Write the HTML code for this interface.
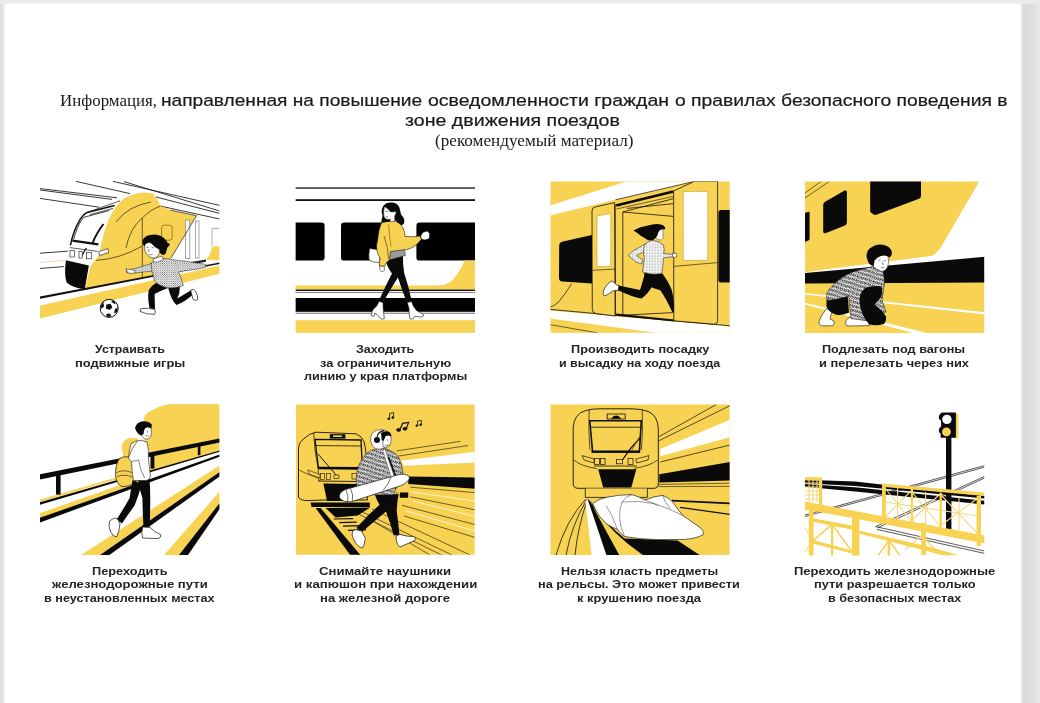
<!DOCTYPE html>
<html lang="ru">
<head>
<meta charset="utf-8">
<title>Информация</title>
<style>
html,body{margin:0;padding:0;}
body{width:1040px;height:703px;overflow:hidden;background:#e9eaeb;position:relative;font-family:"Liberation Sans",sans-serif;}
#shadow{position:absolute;left:1019.6px;top:4px;width:21px;height:699px;background:linear-gradient(to right,#fff 0,#f4f4f5 4%,#dcddde 14%,#d9dadb 20%,#dbdcde 40%,#dfe0e2 62%,#e5e6e7 85%,#e7e8e9 100%);z-index:2;}
#lshadow{position:absolute;left:0;top:4px;width:7px;height:699px;background:linear-gradient(to right,#dcddde 0,#e1e2e3 45%,#f3f3f4 62%,#fdfdfd 85%,#fff 100%);}
#page{position:absolute;left:4px;top:4px;width:1016px;height:699px;background:#fff;box-shadow:0 0 2px 1px #f4f4f5;}
.t{position:absolute;white-space:nowrap;color:#1a1a1a;will-change:transform;}
.t:not(.serif){-webkit-text-stroke:0.2px #1a1a1a;}
.serif{font-family:"Liberation Serif",serif;}
.cl{position:absolute;white-space:nowrap;font-family:"Liberation Sans",sans-serif;font-weight:bold;font-size:10.8px;line-height:14px;color:#242424;transform-origin:0 0;will-change:transform;}
svg.p{position:absolute;overflow:hidden;}
</style>
</head>
<body>
<div id="shadow"></div>
<div id="page"></div>
<div id="lshadow"></div>

<!-- TITLE -->
<div class="t serif" id="t1" style="left:59.5px;top:90.8px;font-size:16.9px;line-height:20px;">Информация,</div>
<div class="t" id="t2a" style="left:160.5px;top:90.7px;font-size:16.7px;line-height:20px;transform:scaleX(1.1462);transform-origin:0 0;">направленная на повышение</div>
<div class="t" id="t2b" style="left:428.0px;top:90.7px;font-size:16.7px;line-height:20px;transform:scaleX(1.1677);transform-origin:0 0;">осведомленности граждан</div>
<div class="t" id="t2c" style="left:674.7px;top:90.7px;font-size:16.7px;line-height:20px;transform:scaleX(1.1566);transform-origin:0 0;">о правилах безопасного поведения в</div>
<div class="t" id="t3" style="left:405.3px;top:110.9px;font-size:16.7px;line-height:20px;transform:scaleX(1.175);transform-origin:0 0;">зоне движения поездов</div>
<div class="t serif" id="t4" style="left:434.8px;top:131px;font-size:17.15px;line-height:20px;">(рекомендуемый материал)</div>

<!-- PANELS -->
<svg id="art" width="1040" height="703" viewBox="0 0 1040 703" style="position:absolute;left:0;top:0;">
<g id="p1">
<defs>
<pattern id="dots" width="2.2" height="2.2" patternUnits="userSpaceOnUse"><rect width="2.2" height="2.2" fill="#fff"/><circle cx="0.6" cy="0.6" r="0.48" fill="#222"/><circle cx="1.7" cy="1.7" r="0.48" fill="#222"/></pattern>
<pattern id="scrib" width="2.8" height="2.8" patternUnits="userSpaceOnUse"><rect width="2.8" height="2.8" fill="#fff"/><path d="M0.2 0.4 l1 0.2 l-0.5 0.9 z M1.6 1.7 l1 -0.3 l-0.3 1 z" fill="#111"/></pattern>
</defs>
<clipPath id="cp1"><rect x="40" y="180" width="179.6" height="143"/></clipPath>
<g clip-path="url(#cp1)">
  <!-- roof / wire lines -->
  <g stroke="#222" stroke-width="0.9" fill="none">
    <path d="M40 188.6 L117 197.8 M40 190 L112 199.4"/><path d="M40 198.4 L99 207.2"/>
    <path d="M76 181.4 L130 193.6"/><path d="M113 181.4 L219.6 205.4"/><path d="M124 181.6 L219.6 211"/>
    <path d="M156 197 L219.6 213.4"/><path d="M160 206 L219.6 219"/>
    <path d="M40 253.2 L70 251"/><path d="M40 268.4 L64 266.6"/>
  </g>
  <path d="M40 262.4 L65 260.2" stroke="#e8dca8" stroke-width="1" fill="none"/>
  <!-- platform band -->
  <path d="M40 305.4 L219.6 265.4 L219.6 273.8 L40 318.6 Z" fill="#f8d252"/>
  <!-- train yellow -->
  <path d="M84.7 289.2 L90.6 265.4 Q96 258 99.2 255 Q101 242 104.3 231.2 Q107 222 111.1 214.2 Q115.5 206 121.4 200.5 Q127 196 133.3 194.4 Q138 192.6 145 192.4 L152.3 193.2 Q157.6 198 160.4 206.1 L170.4 210.1 L196.5 215.7 L170.8 258.2 L170.5 272.6 Z" fill="#f8d252"/>
  <!-- right yellow piece under window -->
  <path d="M204.6 259.8 Q209 258 210.6 252 Q211.6 246.4 213.6 246.3 H219.6 V260 Z" fill="#f8d252"/>
  <!-- door poles -->
  <rect x="185.6" y="220" width="4.2" height="38.5" fill="#fff" stroke="#999" stroke-width="0.9"/>
  <rect x="195.6" y="221" width="3.4" height="37" fill="#fff" stroke="#999" stroke-width="0.9"/>
  <path d="M219.6 228.4 H212 V246.2" fill="none" stroke="#999" stroke-width="0.8"/>
  <!-- side window in yellow panel -->
  <rect x="161.6" y="225.2" width="10.6" height="15" rx="2.6" fill="none" stroke="#7a5c10" stroke-width="0.7"/>
  <!-- nose lines -->
  <g stroke="#222" stroke-width="0.7" fill="none">
    <path d="M142.3 218 V278"/>
    <path d="M116 222 Q128 206 151 202"/>
    <path d="M126 248 Q130 228 142.3 218"/>
    <path d="M96 260.4 Q120 259 142.3 246"/>
    <path d="M160.4 206.1 Q150 210 142.3 218"/>
    <path d="M170.4 210.1 L196.5 215.7 L171 258"/>
  </g>
  <!-- windshield -->
  <path d="M70.2 245 Q73 232 78.7 222.7 Q82 215.6 87.2 212.4 L114.6 205.6 L121.4 200.5 Q115.5 206 111.1 214.2 Q107 222 104.3 231.2 Q101 242 99.2 255 L90.6 265.4 L66 260.4 Q67 252 70.2 245 Z" fill="#fff"/>
  <g stroke="#111" fill="none">
    <path d="M70.4 245.4 Q73 232 79 221.4 Q82.4 215 87.2 212.4 L114.6 205.6" stroke-width="1.5"/>
    <path d="M73.6 239.4 Q77 226 83.4 217.4 L109.4 210.6" stroke-width="0.8"/>
    <path d="M72.4 240.6 L98.4 244.4" stroke-width="2.2"/>
    <path d="M87.2 212.4 L120 200.8 M90 214.6 L113 208.4" stroke-width="0.7"/>
    <path d="M103.4 224 Q96 234 92.6 243" stroke-width="2"/>
    <path d="M69.8 247.6 L97.6 251.4" stroke-width="0.7"/>
    <path d="M86.4 248 L81.6 256" stroke-width="1.2"/>
  </g>
  <!-- lights -->
  <g fill="#fff" stroke="#111" stroke-width="0.6">
    <rect x="70" y="250.4" width="4.4" height="6.6"/><rect x="79" y="251.6" width="3.2" height="6.4"/><rect x="86.4" y="252.4" width="5" height="6.4"/>
    <path d="M98.6 251.6 L108 248.6 L108.6 252.6 L99.6 255.6 Z"/>
  </g>
  <!-- black nose -->
  <path d="M65.9 260.3 L88.9 265.4 L84.7 289.3 Q72 287.6 66.6 282.6 Q64 274 65.9 260.3 Z" fill="#0a0a0a"/>
  <!-- platform edge black line -->
  <path d="M40 296.4 L219.6 262.6 L219.6 264 L40 298.8 Z" fill="#111"/>
  <path d="M188 262.6 L206 259.4 L206 261.8 L188 265.2 Z" fill="#222"/>
  <!-- ball -->
  <circle cx="109.2" cy="308.4" r="9" fill="#fff" stroke="#111" stroke-width="1"/>
  <g fill="#111"><path d="M106.4 304.6 L110.6 303.8 L112.4 307.4 L109.6 310 L105.8 308.4 Z"/><path d="M101 305 L103.4 302 L104 306.4 L101.2 309 Z"/><path d="M112 300.2 L116 302.4 L114.6 304 L111.6 302 Z"/><path d="M115 309 L117.8 307.6 L117 312 L114 313.6 Z"/><path d="M106 314 L110 313.4 L111.4 316.6 L107 317 Z"/></g>
  <!-- BOY -->
  <!-- back leg -->
  <path d="M168 287 L180 286 Q180 293 177.4 298.6 L190.6 290.6 L192.4 295 Q184 302.6 176.4 305 Q171 300 168 287 Z" fill="#0a0a0a"/>
  <!-- front leg -->
  <path d="M156 283 L168 288 Q160 291 154.6 294 L155 309 L149.6 308.4 Q147.4 298 148.6 291 Q150.6 286 156 283 Z" fill="#0a0a0a"/>
  <!-- shoes -->
  <path d="M140.6 308.8 Q147 307.4 154.8 309.4 Q156 312.6 154.6 314.4 Q146 314.6 140 311.4 Z" fill="#fff" stroke="#111" stroke-width="0.7"/>
  <path d="M190.6 290 Q193.6 288 195.4 291.2 Q198.4 296 197.6 299.6 Q195.4 301.4 193 299.4 Z" fill="#fff" stroke="#111" stroke-width="0.7"/>
  <!-- left arm -->
  <path d="M151 263.6 L135 268.6 L126 270 L126.6 272.6 L136 272.8 L153 271 Z" fill="url(#dots)" stroke="#222" stroke-width="0.5"/>
  <path d="M126 268.6 L135 270.4 L134.6 273.4 L128 273 Z" fill="#fff" stroke="#111" stroke-width="0.5"/>
  <!-- sweater -->
  <path d="M151 263 Q157 259.4 162.6 258.6 Q168 258 171 259.4 L194 262.4 Q203 263.6 206 264.6 L205.4 267.4 Q196 269.6 186 270.6 L178.6 272 Q181.6 279 183.4 285.6 Q176 288.6 168.6 287.8 Q160 286.6 154.6 281 Q151.4 272 151 263 Z" fill="url(#dots)" stroke="#222" stroke-width="0.5"/>
  <!-- neck -->
  <path d="M153 259 L162 256 L163.4 259.6 Q158 263 153.6 262 Z" fill="#fff" stroke="#111" stroke-width="0.5"/>
  <!-- hair -->
  <path d="M142.4 241 Q144 236 150 235 Q156 233.4 161 236 Q166 239 167.6 243 Q170.6 243.4 169.4 245.4 Q167 247 166.6 250 Q166 254.6 163.6 255 Q160 254 158.6 251 L150 244 Q146 243.6 144.6 246.4 Q142 244.4 142.4 241 Z" fill="#0a0a0a"/>
  <!-- face -->
  <path d="M145 244.4 Q148 241.6 151 243 Q155 247.6 159.4 249.4 Q160 254 157.4 256.6 Q153.6 259.4 149.6 257 Q145.6 254 144.4 249 Z" fill="#fff" stroke="#111" stroke-width="0.5"/>
  <path d="M146.4 247.6 L148.6 247.4 M151.6 247.6 L154 247.8 M149 249 L148.6 252 M148.6 254.4 Q150.6 255.4 152.6 254.4" stroke="#111" stroke-width="0.5" fill="none"/>
</g>
</g>

<g id="p2">
<clipPath id="cp2"><rect x="295.4" y="180" width="179.6" height="153"/></clipPath>
<g clip-path="url(#cp2)">
  <rect x="295.4" y="187.4" width="180" height="1.3" fill="#111"/>
  <rect x="295.4" y="199.2" width="180" height="1.8" fill="#111"/>
  <!-- windows -->
  <path d="M295.4 222.6 H321.5 Q324.6 222.6 324.6 225.7 V257.5 Q324.6 260.6 321.5 260.6 H295.4 Z" fill="#000"/>
  <rect x="341" y="222.6" width="60" height="38" rx="3.2" fill="#000"/>
  <path d="M475 222.6 H419.6 Q416.4 222.6 416.4 225.8 V257.4 Q416.4 260.6 419.6 260.6 H475 Z" fill="#000"/>
  <!-- yellow stripe with swoosh -->
  <path d="M295.4 285.5 H436 C450 285.5 455 280 463 264 L465 260.6 H475 V289.7 H295.4 Z" fill="#f8d252"/>
  <rect x="295.4" y="289.6" width="180" height="1.4" fill="#111"/>
  <rect x="295.4" y="292.2" width="180" height="0.6" fill="#333"/>
  <rect x="295.4" y="298" width="180" height="13.8" fill="#000"/>
  <rect x="295.4" y="312.8" width="180" height="0.7" fill="#333"/>
  <rect x="295.4" y="320.2" width="180" height="12.6" fill="#f8d252"/>
  <!-- WOMAN -->
  <!-- bag -->
  <path d="M369.5 248.5 Q368.3 256 369.2 260 Q373 262.8 379.5 262.5 L381 250 Z" fill="#fff" stroke="#111" stroke-width="0.6"/>
  <!-- legs -->
  <path d="M385.4 259 Q386.5 266 392 273.5 Q386 285 378.6 301.4 L383 302.6 Q390 290 397.9 277.6 Q402 290 406.9 302.8 L411.8 301.4 Q408.5 286 404.2 273 Q402.6 264 403 255 Z" fill="#0a0a0a"/>
  <!-- boots -->
  <path d="M379 301.4 L383 302.6 L383.2 308 Q383.5 313 384.4 318.6 L381.5 319.3 L377.2 314.6 L374.6 313.2 L374 316.4 L371.3 315.6 Q371.6 311 373.6 309 Q377.5 306 379 301.4 Z" fill="#fff" stroke="#111" stroke-width="0.6"/>
  <path d="M407.2 302.6 L411.6 301.6 Q413 307 416.5 310.5 L423.6 314.6 Q424 316.6 421.5 317 L414.5 316.4 L413 319 L410 319 Q408.6 312 409 308.6 Z" fill="#fff" stroke="#111" stroke-width="0.6"/>
  <!-- gray shirt hem -->
  <path d="M390 247 L403.5 243 L405.5 255.5 L389 260 Z" fill="#9a9a9a" stroke="#222" stroke-width="0.5"/>
  <!-- sweater body -->
  <path d="M381.5 222.8 Q388 220 396 221.2 Q402.5 224 404.6 232.5 L405 236.4 Q412 237.4 420 236 L421.4 239.2 Q415 248 406.5 249.6 L398 250.5 L390.5 251.5 L389.6 259.5 Q386 262.5 384.4 266.3 L379.6 266 Q378.6 262 380.2 258.5 Q374.6 250 377.6 240 Q378.4 230 381.5 222.8 Z" fill="#f8d252" stroke="#111" stroke-width="0.6"/>
  <path d="M388.6 224.5 Q389.4 236 391 247" fill="none" stroke="#8a6a10" stroke-width="0.7"/>
  <path d="M384 236 Q388.4 248 388.6 259" fill="none" stroke="#111" stroke-width="0.5"/>
  <!-- hand + cup -->
  <path d="M420.6 236 L423 232.2 L427.6 231 L429.6 233.6 L429.4 238.6 L425 240 L421.6 239.2 Z" fill="#fff" stroke="#111" stroke-width="0.6"/>
  <!-- left hand -->
  <path d="M379.8 266 L384.2 266.4 L384.4 270.4 L381.6 272 L379.8 270 Z" fill="#fff" stroke="#111" stroke-width="0.5"/>
  <!-- hair -->
  <path d="M390.6 202.6 Q396.5 202.2 399.2 207 Q400.4 211 401 214.5 Q405.6 219 404 223.5 Q402.4 226 400 224 Q397 222.5 396 220.5 L389 221.8 L381.2 222.4 Q381.6 218.8 382.6 216 Q380.6 210 383.2 206 Q386 202.6 390.6 202.6 Z" fill="#0a0a0a"/>
  <!-- face -->
  <path d="M384.6 206.6 Q387.6 208.4 390.4 211.8 Q393.4 212.4 395.8 211.2 Q396.6 214 394.6 216 L394.8 221 L390 222 L390.4 219.2 Q386.4 220.4 384.4 217.6 Q382.6 213 384.6 206.6 Z" fill="#fff" stroke="#111" stroke-width="0.4"/>
  <path d="M385.6 211.3 L387.6 211.6 M386 216.6 L388 217" stroke="#111" stroke-width="0.6" fill="none"/>
</g>
</g>

<g id="p3">
<clipPath id="cp3"><rect x="550.5" y="181.6" width="179.2" height="151.2"/></clipPath>
<g clip-path="url(#cp3)">
  <rect x="550" y="181" width="181" height="153" fill="#f8d252"/>
  <!-- white diagonal band top -->
  <path d="M550 205.6 L626.4 181.4 L694.4 181.4 L615.4 199.8 L550 215.6 Z" fill="#fff"/>
  <path d="M615.4 199.8 L694.4 181.4" stroke="#111" stroke-width="0.7" fill="none"/>
  <!-- white band bottom -->
  <path d="M550 310.4 L730 326.6 L730 334 L664.7 334 L550 318.4 Z" fill="#fff"/>
  <path d="M550 324.6 L598 333" stroke="#111" stroke-width="0.6" fill="none"/>
  <!-- train bottom line -->
  <path d="M550 309.4 L730 325.8" stroke="#111" stroke-width="0.8" fill="none"/>
  <path d="M616 314.6 L674 320.4" stroke="#111" stroke-width="2" fill="none"/>
  <!-- left curve -->
  <path d="M571.6 283.6 Q566 293 559 301.6 Q555 305.6 550 307.4" stroke="#111" stroke-width="0.7" fill="none"/>
  <!-- left black window -->
  <path d="M563 241.6 L592 235 L592 283.4 L562.4 281.6 Q559 281.2 559 278 L559.2 245.4 Q559.4 242.4 563 241.6 Z" fill="#0a0a0a"/>
  <!-- right black window -->
  <path d="M730 210 H721 Q718.4 210 718.4 213 V279.4 Q718.4 282.4 721 282.4 H730 Z" fill="#0a0a0a"/>
  <!-- left leaf -->
  <path d="M592 211 Q592 207.4 595.6 206.8 L614.6 202.6 L615.4 316 L596 313.6 Q592.4 313 592.3 309.6 Z" fill="#f8d252" stroke="#111" stroke-width="0.8"/>
  <path d="M597 216 L610.8 213.6 L610.8 266.2 L597 266.6 Z" fill="#fff" stroke="#caa030" stroke-width="0.6"/>
  <path d="M592.3 270.4 L615.2 269" stroke="#111" stroke-width="0.6" fill="none"/>
  <!-- door opening -->
  <path d="M616.2 205.4 L673.4 191.6" stroke="#0a0a0a" stroke-width="2.6" fill="none"/>
  <path d="M616.4 209 L673.4 196.4" stroke="#111" stroke-width="0.6" fill="none"/>
  <g stroke="#111" stroke-width="0.8" fill="none">
    <path d="M615.2 204 V316"/>
    <path d="M622.8 212 V315.6"/>
    <path d="M622.8 212 L673.6 198.6"/>
    <path d="M622.8 212 L673.6 216.4"/>
    <path d="M627 208.4 L673.6 203.6"/>
    <path d="M622.8 315.2 L673.6 312.6"/>
  </g>
  <!-- right leaf -->
  <path d="M673.6 191 L694.4 181.4 L717.6 181.4 L717.6 320 Q717.6 324.4 713.6 324.2 L673.8 320.8 Z" fill="#f8d252" stroke="#111" stroke-width="0.8"/>
  <rect x="683.2" y="191.4" width="24.6" height="68.8" fill="#fff" stroke="#caa030" stroke-width="0.6"/>
  <path d="M673.8 266.4 L717.6 262.6" stroke="#111" stroke-width="0.6" fill="none"/>
  <!-- GIRL -->
  <!-- back leg -->
  <path d="M645 273 Q642 284 640 290 L618.4 285.4 L617.6 290 Q632 297 641.6 298.6 Q648 294 652 286.6 Z" fill="#0a0a0a"/>
  <!-- front leg -->
  <path d="M644 273 L662.4 273.6 Q668 281 671.4 289 Q674.6 300 674 311.6 L672.4 312.6 Q666 298 660 290 Q653 288 649.6 286.4 Z" fill="#0a0a0a"/>
  <!-- shoe -->
  <path d="M603 293.6 Q604 286 611.4 281 Q614 281.6 616.6 285 L619 285.6 L618 290.6 L613 290.8 Q608 295 604.4 296 Z" fill="#fff" stroke="#111" stroke-width="0.7"/>
  <!-- back arm -->
  <path d="M645.6 243.6 L631.6 252 L628.4 255.4 L636 262 L641.4 264 L643 260 L636.4 255.6 L646 250.6 Z" fill="url(#scrib)" stroke="#111" stroke-width="0.5"/>
  <!-- sweater -->
  <path d="M652 240 Q659 241 663.4 245 Q665 250 663.6 253.6 L673 254.4 L673.4 256.6 L663.4 258 Q663 267 661.8 273.6 Q652 275.6 642.4 272 Q643.6 263 644.4 258 Q642 248 646 243 Z" fill="url(#scrib)" stroke="#111" stroke-width="0.5"/>
  <path d="M672.4 253.2 L676.6 253.4 L676.8 257 L672.8 257.4 Z" fill="#fff" stroke="#111" stroke-width="0.5"/>
  <!-- face -->
  <path d="M656 229.6 L662.6 229 Q663.6 233 662.8 236.4 L663.4 238 L661.4 240 L657.6 239.6 L655 236 Z" fill="#fff" stroke="#111" stroke-width="0.4"/>
  <!-- hair -->
  <path d="M633.4 230.6 Q640 226.6 648 225.6 Q655 223.2 661 224.6 Q665.4 226 665.4 229 L661 229.4 Q658 231 657.6 235 Q656 239 652.6 240.4 Q648 241 644.6 238 Q641 236.6 638 233.6 Q636 232 633.4 230.6 Z" fill="#0a0a0a"/>
</g>
</g>

<g id="p4">
<defs>
<pattern id="scrib2" width="4.2" height="4.2" patternUnits="userSpaceOnUse" patternTransform="rotate(18)"><rect width="4.2" height="4.2" fill="#fff"/><path d="M0.2 1.2 Q1 -0.2 2 1 T4 1.2 M0.4 3.4 Q1.4 2 2.4 3.2 T4.2 3.2 M2.1 1.2 V2.6 M0 2.2 H0.8 M3.4 2 L4.2 2.4" stroke="#0a0a0a" stroke-width="0.72" fill="none"/></pattern>
</defs>
<clipPath id="cp4"><rect x="805" y="181.6" width="179.2" height="151.3"/></clipPath>
<g clip-path="url(#cp4)">
  <!-- lower yellow ground -->
  <rect x="805" y="270" width="180" height="64" fill="#f8d252"/>
  <!-- yellow train body -->
  <path d="M805 181 H979.6 L944 242 Q939 252 931.5 256.2 L805 272 Z" fill="#f8d252"/>
  <!-- white wedge right -->
  <path d="M980 181 H985 V258 L932 256.2 Q939.6 252.4 944.6 242.6 Z" fill="#fff"/>
  <path d="M805 272.2 L932 256 L985 256.4 V258 L805 273.6 Z" fill="#fff"/>
  <!-- black band -->
  <path d="M805 273 L985 256.8 V282.4 L805 283.4 Z" fill="#0a0a0a"/>
  <!-- white ground lines -->
  <path d="M805 293 L985 312.2 V314.6 L805 294.4 Z" fill="#fff"/>
  <path d="M805 302.8 L931 334 L917 334 L805 304.6 Z" fill="#fff"/>
  <!-- windows -->
  <path d="M805 213 L808.4 211.8 Q809.6 211.6 809.6 213 V238.4 Q809.6 239.8 808.4 240.4 L805 242 Z" fill="#0a0a0a"/>
  <path d="M825.2 201.8 L844.6 190.6 Q846.9 189.8 846.9 192.2 V222.6 Q846.9 224.8 845 225.6 L825.4 233.2 Q823.2 233.8 823.2 231.6 V205 Q823.2 202.8 825.2 201.8 Z" fill="#0a0a0a"/>
  <path d="M870.2 181 H921 V196 Q921 198 919 198.8 L877 214.6 Q875 215.2 873.6 214.4 L871.2 212.8 Q870.2 212 870.2 210.4 Z" fill="#0a0a0a"/>
  <path d="M805 193 L821 181.6 M805 198 L829 181.6" stroke="#111" stroke-width="0.6" fill="none"/>
  <!-- BOY -->
  <!-- shoes -->
  <path d="M826.4 308.6 Q822 314 819 321.4 Q818.6 325 821 325.8 L833 325.8 Q835 324 834 321 L830 319 L832 311 Z" fill="#fff" stroke="#111" stroke-width="0.6"/>
  <path d="M846 320.6 Q848 317.6 851 317 L868 321 L869.6 325.6 L847 326 Q844.6 324 846 320.6 Z" fill="#fff" stroke="#111" stroke-width="0.6"/>
  <!-- back thigh -->
  <path d="M826.6 299 L847.6 294.6 L849 312.6 Q842 316 835.6 314.4 Q828 312 826.4 306 Z" fill="#0a0a0a"/>
  <!-- torso patterned -->
  <path d="M867.4 268 L874 266 L883 271.6 Q884.6 277 884.4 284.6 L882 300 L886 312 L881 314 L866 320.6 L851 318.6 L848.6 296 Q838 299.6 828 300.6 L826.4 297.6 Q826.6 292 829 289.4 Q838 279 849 273.6 Q858 269.6 867.4 268 Z" fill="url(#scrib2)" stroke="#111" stroke-width="0.5"/>
  <!-- knee black -->
  <path d="M865 288 Q872 285.4 881.4 286.2 Q883 292 881 297 Q877 302 874.4 304.6 Q882 310 886 316.6 Q886.6 321.6 884 324 Q876 326.4 869.4 324.6 Q863.6 318 861.6 311.6 Q858.6 302 860 296 Q861.6 291 865 288 Z" fill="#0a0a0a"/>
  <!-- face -->
  <path d="M873 256 Q880 252.6 888 255.6 Q889.6 262 887.6 267 Q885 271.6 881.6 271.6 Q877 270 873.6 266.6 L872.6 262 Z" fill="#fff" stroke="#111" stroke-width="0.5"/>
  <path d="M878.4 260.4 L880.6 260 M883.8 260.6 L885.8 260.6 M882.6 261.6 L883 265 M881 267.4 Q882.6 268.2 884.2 267.4" stroke="#111" stroke-width="0.5" fill="none"/>
  <!-- hair -->
  <path d="M866.6 257 Q866 250 872 247 Q877 243.6 884 245 Q890 246.4 891.6 251 Q892.6 255 889.6 257.6 Q886 254.6 881 256 Q877 257.4 874.6 260.6 L873.6 266 Q869.6 265 868 261.4 Z" fill="#0a0a0a"/>
</g>
</g>

<g id="p5">
<clipPath id="cp5"><rect x="40" y="400" width="179.6" height="155"/></clipPath>
<g clip-path="url(#cp5)">
  <!-- yellow blob -->
  <path d="M144 417.4 Q146 412.6 152.6 410 Q160 406 168.4 404.2 L219.6 404.2 V451.4 L150 471.4 L150 452 Q146 446 144.6 440 Q143 428 144 417.4 Z" fill="#f8d252"/>
  <path d="M121.4 447.6 Q122 441.6 127 439 Q132 436.6 138 438.4 L140 458 L124 458 Z" fill="#f8d252"/>
  <!-- yellow above line1/line2 (left) -->
  <path d="M40 499.4 L130 473.4 L130 475.6 L40 502 Z" fill="#f8d252"/>
  <path d="M40 513.2 L150 474.6 L150 478.6 L40 518.6 Z" fill="#f8d252"/>
  <!-- rails lines -->
  <path d="M40 502.2 L219.6 450.4 V451.8 L40 504.8 Z" fill="#0a0a0a"/>
  <path d="M40 517.8 L219.6 454.6 V456.8 L40 522.4 Z" fill="#0a0a0a"/>
  <!-- top rail -->
  <path d="M40 474.2 L219.6 438.4 V442.4 L40 479.4 Z" fill="#0a0a0a"/>
  <rect x="56" y="474" width="4.6" height="20.6" fill="#0a0a0a"/>
  <rect x="150.6" y="455" width="3.8" height="13.6" fill="#0a0a0a"/>
  <rect x="197.8" y="444.6" width="2.6" height="10.6" fill="#0a0a0a"/>
  <!-- band A -->
  <path d="M81 555 L219.6 465.4 V472 L100 555 Z" fill="#f8d252"/>
  <path d="M100 555 L219.6 472 V476.4 L109.4 555 Z" fill="#0a0a0a"/>
  <!-- band B -->
  <path d="M164 555 L219.6 491.6 V503 L179 555 Z" fill="#f8d252"/>
  <path d="M179 555 L219.6 503 V509 L188 555 Z" fill="#0a0a0a"/>
  <!-- BOY -->
  <!-- backpack -->
  <path d="M119 459 Q123 455.6 128.6 457 Q133.6 461 135.6 470 L135.8 482 Q130 486.6 122 486.6 Q116.4 484 115.6 476 Q115 466 119 459 Z" fill="#f8d252" stroke="#111" stroke-width="0.7"/>
  <path d="M116.4 472.6 Q124 469 131.6 472.6 M117 476.6 Q124 473.6 132.4 477" stroke="#111" stroke-width="0.6" fill="none"/>
  <!-- back leg -->
  <path d="M132.6 480 L141.6 484 Q138.6 496 134.6 505.6 Q128 514.6 122 523.4 L116.6 519.4 Q124 508 129.6 498 Q131 489 132.6 480 Z" fill="#0a0a0a"/>
  <!-- front leg -->
  <path d="M138 480 L149.6 479.6 Q150.4 492 150.2 506 L149.8 526.6 L143.4 526 Q142.6 510 142.4 498 Q139.6 490 138 480 Z" fill="#0a0a0a"/>
  <!-- shoes -->
  <path d="M112.6 519 Q115.6 517 118 519.6 L120 524 Q119 532 116.6 537 Q113 536.6 110.6 532 Q108 526 109.6 521 Z" fill="#fff" stroke="#111" stroke-width="0.7"/>
  <path d="M142.6 527 L150 527.4 Q154 532 160.6 534.6 Q161.6 537.6 158 538.6 L142.6 538 Q141 533 142.6 527 Z" fill="#fff" stroke="#111" stroke-width="0.7"/>
  <!-- shirt -->
  <path d="M131 443.6 Q136 440 141.6 440.4 L147 442 Q149 450 148.6 460 L150.4 476 Q150 480 146 480.6 L133.4 480.6 Q131.6 470 131.6 462 L128.6 458.6 Q129 450 131 443.6 Z" fill="#fff" stroke="#111" stroke-width="0.6"/>
  <path d="M131.6 461.6 L138.6 460 Q140 470 144.6 478" stroke="#111" stroke-width="0.5" fill="none"/>
  <path d="M137.4 441 Q131 449 128.4 458" stroke="#8a6a10" stroke-width="0.9" fill="none"/>
  <!-- face -->
  <path d="M141 427 Q147 425 151 428 Q152 433 150.6 437 Q148 440 144.6 439 L141.6 436 Z" fill="#fff" stroke="#111" stroke-width="0.5"/>
  <path d="M147.4 430.6 V432.6 M145.6 435.6 Q147 436.6 148.6 435.6" stroke="#111" stroke-width="0.5" fill="none"/>
  <!-- hair -->
  <path d="M135 428 Q136 422.6 142 421.4 Q148 420.6 151.8 424.6 L151.4 428.4 Q148 426 145 428.4 Q143.4 431 143.6 434 L141 435.4 Q137 434 135 428 Z" fill="#0a0a0a"/>
</g>
</g>

<g id="p6">
<clipPath id="cp6"><rect x="296" y="404.4" width="178.6" height="150.4"/></clipPath>
<g clip-path="url(#cp6)">
  <rect x="295" y="404" width="181" height="152" fill="#f8d252"/>
  <!-- white band & black band right -->
  <path d="M400.8 460.8 L475 451.8 V462.6 L404 465.8 Z" fill="#fff"/>
  <path d="M408.3 476.4 L475 477.6 V488.8 L408.3 484 Z" fill="#0a0a0a"/>
  <g stroke="#111" stroke-width="0.6" fill="none">
    <path d="M396.6 450.9 L460.6 441.3"/><path d="M397.6 456.2 L468 445.5"/>
    <path d="M410.4 487.2 L475 492.6"/><path d="M410.4 496.8 L475 509.8"/><path d="M402 505.3 L475 524.6"/><path d="M404 516 L475 537.4"/>
    <path d="M350.3 510 L441.6 555"/><path d="M357 509.4 L452 555"/><path d="M366 517 L430 555"/><path d="M372 509 L470 555"/>
  </g>
  <g stroke="#fdf3cf" stroke-width="1" fill="none">
    <path d="M412.6 501 L475 516.4"/><path d="M405 510.6 L475 531"/><path d="M412 492 L475 501"/>
  </g>
  <!-- track to lower-left -->
  <path d="M315.6 508 L320.6 508 L360.4 555 L350.2 555 Z" fill="#0a0a0a"/>
  <path d="M325.6 508 L370.4 507.4 L357.6 515.6 L335.7 517.4 Z" fill="#0a0a0a"/>
  <path d="M333.8 519 L353 518.6 M339.3 522.6 L356.7 522.2 M343 526.2 L363 525.6 M348 530.4 L366 529.6" stroke="#111" stroke-width="1.2" fill="none"/>
  <!-- TRAIN -->
  <path d="M298.5 497 V448.4 Q299 442 304.2 438.4 Q309 433.6 316 432.2 L356 433.8 Q362 436 364.2 442 Q366.6 452 367 470 L367.4 500 H325 L306 500.6 Q299.6 500 298.5 497 Z" fill="#f8d252" stroke="#111" stroke-width="0.9"/>
  <path d="M313.6 432.6 Q314.6 452 318 468 L319 481" stroke="#111" stroke-width="0.7" fill="none"/>
  <path d="M299 470 Q306 474 318 478" stroke="#111" stroke-width="0.6" fill="none"/>
  <!-- windshield -->
  <path d="M315 439.4 L361 440 L362.4 468 L318.4 467.6 Z" fill="none" stroke="#111" stroke-width="1.3"/>
  <path d="M315.6 445.6 L361.4 446" stroke="#111" stroke-width="0.8" fill="none"/>
  <path d="M318.2 468 L362.6 468.4" stroke="#0a0a0a" stroke-width="2.6" fill="none"/>
  <path d="M318 454 L337 476" stroke="#111" stroke-width="1" fill="none"/>
  <rect x="329.8" y="434.2" width="15.6" height="4.4" fill="#0a0a0a"/>
  <rect x="333" y="435.4" width="9" height="1.6" fill="#f8d252"/>
  <g fill="#f8d252" stroke="#111" stroke-width="0.6">
    <path d="M308 470 L320 474.6 L320 478 L309 474 Z"/>
    <rect x="320.6" y="473.6" width="4" height="6"/><rect x="326.6" y="473.6" width="4" height="6"/><rect x="334" y="475" width="5" height="3.6"/><rect x="352" y="473.6" width="5" height="5.4"/>
  </g>
  <path d="M318 481 L366 481.6" stroke="#111" stroke-width="0.9" fill="none"/>
  <path d="M323.4 483.6 L357.4 484 L356.6 501 L327 501 Z" fill="#0a0a0a"/>
  <path d="M310.6 502.4 L369.8 502.4 L369.8 507 L311.6 507 Z" fill="#0a0a0a"/>
  <!-- notes -->
  <g fill="#111" stroke="#111" stroke-width="0.8">
    <path d="M389.6 418.6 V413.4 L393.6 412.6 V417.4" fill="none"/><ellipse cx="388.8" cy="418.8" rx="1.1" ry="0.9"/><ellipse cx="392.8" cy="417.6" rx="1.1" ry="0.9"/>
    <path d="M400 429.6 L402.6 423.4 L408.6 422.4 L406.4 428.4" fill="none" stroke-width="1.2"/><ellipse cx="398.6" cy="430" rx="2" ry="1.4"/><ellipse cx="405" cy="428.8" rx="2" ry="1.4"/>
    <path d="M417.6 425.4 V421 L421.4 420.4 V424.6" fill="none"/><ellipse cx="416.8" cy="425.6" rx="1" ry="0.8"/><ellipse cx="420.6" cy="424.8" rx="1" ry="0.8"/>
  </g>
  <!-- GIRL -->
  <!-- legs -->
  <path d="M375 495 L398.6 494 Q396.6 506 396.8 512 Q398.6 524 399.4 534.4 L393.8 535.6 Q390 522 386 511.6 Q376 520 362.6 531.6 L356.2 528 Q366 518 368 515.6 Q377 507 379.6 505 Q376.6 500 375 495 Z" fill="#0a0a0a"/>
  <!-- shoes -->
  <path d="M355.6 529.6 L361.4 531 L365.4 538 Q364.6 545 362.4 548 Q357 546.6 354 540 Q351 535 352.6 531 Z" fill="#fff" stroke="#111" stroke-width="0.7"/>
  <path d="M396 536 L400 534.4 Q406 536.6 414 536.6 Q416.6 538.6 414.6 540.6 L400 547 Q397 545 396.4 541 Z" fill="#fff" stroke="#111" stroke-width="0.7"/>
  <!-- jacket -->
  <path d="M376.3 448.7 L369.3 451.3 Q361 458 357.4 469.5 Q355.4 478 356.3 484.3 Q357.6 491 361.4 494.6 L393.4 494.8 L397 486 Q402.6 480 402.9 474 Q402.6 468 401.2 463.8 Q399.6 457.6 395.5 453.6 Q391 450.6 385.9 448.7 Z" fill="url(#scrib2)" stroke="#111" stroke-width="0.5"/>
  <path d="M385 449 L395.6 481 L392.6 482 L382.6 450 Z" fill="#fff" stroke="#111" stroke-width="0.4"/>
  <path d="M388.4 457 L396.4 478" stroke="#0a0a0a" stroke-width="1.6" fill="none"/>
  <!-- camera -->
  <path d="M399.8 492.6 H408.2 V497.8 H399.8 Z" fill="#0a0a0a"/>
  <path d="M397 492 Q394 500 397 506" stroke="#111" stroke-width="0.5" fill="none"/>
  <!-- skateboard -->
  <path d="M339.4 497.6 Q338.6 492.6 345 489.6 L398 474.8 Q406 472.8 409.6 477.2 Q409 482 401 485.6 L352 501.6 Q343 503 339.4 497.6 Z" fill="#fff" stroke="#111" stroke-width="0.7"/>
  <path d="M346 490 Q349 496 347.6 502 M350.6 488.6 Q353.6 494.6 352.4 501 M391 477 Q389 484 383 490.4" stroke="#111" stroke-width="0.6" fill="none"/>
  <!-- hood -->
  <path d="M370.6 441 Q370 432.6 376.6 430.2 Q382.6 428.4 387 431.2 L384.6 447.6 Q380 450.4 375.6 448.6 Q371.4 446 370.6 441 Z" fill="#fff" stroke="#111" stroke-width="0.5"/>
  <!-- face -->
  <path d="M382.6 434.6 Q388 433 391 436.6 Q391.6 442 389.6 446 Q386 448.6 383 446.6 Z" fill="#fff" stroke="#111" stroke-width="0.5"/>
  <path d="M385 445 Q387 446.4 389.4 444.6 M387.6 439.4 V441" stroke="#111" stroke-width="0.5" fill="none"/>
  <!-- hair -->
  <path d="M381 433 Q384 430.6 388.4 431.6 Q391.4 433 391.4 436.6 Q388 434.6 385.4 436.6 L383.6 441 L381.6 440 Z" fill="#0a0a0a"/>
  <!-- headphone -->
  <circle cx="377" cy="440" r="3" fill="#0a0a0a"/>
  <path d="M377 437 Q378 431.6 384 430.6" stroke="#0a0a0a" stroke-width="1.1" fill="none"/>
</g>
</g>

<g id="p7">
<clipPath id="cp7"><rect x="550.5" y="404.4" width="179.1" height="150.6"/></clipPath>
<g clip-path="url(#cp7)">
  <rect x="550" y="404" width="181" height="152" fill="#f8d252"/>
  <!-- right perspective bands -->
  <path d="M660.3 449 L730 419.8 V437.2 L660.3 456.2 Z" fill="#fff"/>
  <path d="M659.3 474.2 L730 462 V480.4 L659.3 482.4 Z" fill="#0a0a0a"/>
  <g stroke="#111" fill="none">
    <path d="M658.3 437 L716.5 404.4" stroke-width="0.7"/><path d="M658.3 441 L730 405.6" stroke-width="0.7"/>
    <path d="M660.3 462 L730 445" stroke-width="0.7"/>
    <path d="M658.3 484.4 L730 483.2" stroke-width="0.6"/><path d="M658.3 486.6 L730 486.4" stroke-width="0.6"/>
    <path d="M672 500.6 L730 503.4" stroke-width="1.6"/><path d="M680 507.4 L730 514.4" stroke-width="1.3"/>
  </g>
  <!-- left curved track lines -->
  <g stroke="#111" stroke-width="0.8" fill="none">
    <path d="M586 499 Q566 520 556 555"/><path d="M586.6 500 Q572 524 566 555"/><path d="M587 501 Q578 526 575 555"/>
  </g>
  <!-- rails bands -->
  <path d="M585.4 502 L591.6 555 L606.4 555 L587.6 499 Z" fill="#fff"/>
  <path d="M587.4 498.4 L606.4 555 L619.2 555 Q600 520 590 501 Z" fill="#0a0a0a"/>
  <path d="M590.6 501 Q604 522 624.6 538.4 L677.6 540.4 L699.6 555 L642.8 555 Q612 534 592.6 506 Z" fill="#0a0a0a"/>
  <!-- TRAIN -->
  <path d="M573.2 484 V428 Q573.6 414 586 410.4 Q592 408.8 600 408.8 H632 Q642 409 648 411.4 Q658 415.6 658.3 429 V484 Q658 488.2 654 488.3 H578 Q573.4 488.2 573.2 484 Z" fill="#f8d252" stroke="#111" stroke-width="0.9"/>
  <path d="M589.2 409.6 Q588 430 590 450 M642.2 409.6 Q643.2 430 641.4 450" stroke="#111" stroke-width="0.7" fill="none"/>
  <path d="M589.8 420.8 H641.3 L639.4 452 H592.6 Z" fill="none" stroke="#111" stroke-width="1.6"/>
  <path d="M591.6 451.6 H640" stroke="#0a0a0a" stroke-width="2.4" fill="none"/>
  <path d="M590 427.2 H641" stroke="#111" stroke-width="0.8" fill="none"/>
  <path d="M574 460 Q580 466 597 468.6 M634 468.4 Q650 466 657.6 460" stroke="#111" stroke-width="0.7" fill="none"/>
  <rect x="607.2" y="414" width="18" height="5" fill="#f8d252" stroke="#111" stroke-width="0.8"/>
  <path d="M611 418.8 Q616 412.4 621.4 418.8 Z" fill="#0a0a0a"/>
  <path d="M640 438 Q630 448 622.4 460" stroke="#111" stroke-width="1.3" fill="none"/>
  <path d="M640 436 L632 450" stroke="#7a5c10" stroke-width="0.8" fill="none"/>
  <g fill="#f8d252" stroke="#111" stroke-width="0.7">
    <path d="M582 455.6 L594 459 L594 463 L584 460 Z"/><rect x="594.6" y="458.6" width="5" height="6"/><rect x="600.6" y="458.6" width="4.4" height="6"/>
    <rect x="616.4" y="459.4" width="6" height="4.4"/><rect x="628" y="458.6" width="5" height="6"/><path d="M636 459 L649 455.6 L648 460 L636.6 463 Z"/>
  </g>
  <path d="M594 466 H637" stroke="#111" stroke-width="0.8" fill="none"/>
  <path d="M598.2 469.2 H636.3 L631.3 487.6 H603.2 Z" fill="#0a0a0a"/>
  <path d="M585.3 488.4 V497.4 H647.4 V488.4" fill="#f8d252" stroke="#111" stroke-width="0.8"/>
  <!-- BAG -->
  <path d="M592.6 503.6 Q598 499 606.3 497.4 Q618 494.6 631.9 494.6 Q640 497 645 500 Q654 496 662.9 495.4 Q670 498 673.9 503.6 Q678 510 683 515.6 Q692 522 701.3 528.4 Q704.6 531.6 703.1 534.8 Q696 538.6 684.8 539.4 L655.6 539.6 Q638 539 624.6 536.6 Q620 533 617.2 529.2 Q611 527 606.3 523.8 Q599 517 595.3 509.2 Z" fill="#fff" stroke="#222" stroke-width="0.7"/>
  <g stroke="#333" stroke-width="0.5" fill="none">
    <path d="M624.6 536.6 Q616 518 622 502 Q626 496 631.9 494.6"/>
    <path d="M622 502 Q640 500 656 504 Q668 508 683 515.6"/>
    <path d="M617.2 529.2 Q612 514 606 506"/>
    <path d="M645 500 Q652 502 658 506"/>
    <path d="M662.9 495.4 Q664 502 670 508"/>
  </g>
</g>
</g>

<g id="p8">
<clipPath id="cp8"><rect x="804.7" y="400" width="179.8" height="155.4"/></clipPath>
<g clip-path="url(#cp8)">
  <!-- thin dark track lines (double) -->
  <g stroke="#222" stroke-width="0.75" fill="none">
    <path d="M984.5 465.6 L804.7 515"/><path d="M984.5 467.2 L804.7 516.6"/>
    <path d="M984.5 476.4 L875.6 526.6"/><path d="M984.5 478 L878 527.6"/>
    <path d="M875.6 526.6 L984.5 551"/><path d="M877 529.4 L984.5 553.4"/>
  </g>
  <!-- pole -->
  <rect x="946" y="437" width="5.4" height="92.4" fill="#0a0a0a"/>
  <!-- black rails -->
  <path d="M804.7 479.8 L855 481.6 L984.5 496 V498.6 L855 486 L804.7 483.2 Z" fill="#0a0a0a"/>
  <path d="M804.7 484 L855 487.2 L984.5 500.8 V504.4 L855 491.4 L804.7 486.8 Z" fill="#0a0a0a"/>
  <!-- pale lattice -->
  <g stroke="#f7d97f" stroke-width="1.1" fill="none">
    <path d="M885 488 L911 521 M885 517 L911 491 M911 491 L940 526 M911 521 L940 494 M940 494 L978 534 M940 526 L978 498"/>
    <path d="M885 502 L978 516"/>
    <path d="M897.6 488 V519 M925.6 492 V524 M959 496 V530"/>
    <path d="M805 483 H820 M805 487 H820 M805 491 H820 M805 495 H820 M805 499 H820 M809 480 V502 M813 480 V502 M817 480 V502"/>
    <path d="M813 540 L805 528 M813 540 L805 552 M921 536 L905 550 M926 540 L940 555"/>
    <path d="M984 518 L990 510 M984 535 L990 528"/>
  </g>
  <!-- yellow fence -->
  <g fill="#f8d252">
    <!-- left section top bar & post -->
    <path d="M804.7 477 L822 477.6 V480.8 L804.7 480.4 Z"/>
    <rect x="819" y="477.4" width="3.2" height="28.4"/>
    <!-- main thick beam left -->
    <path d="M804.7 501.6 L855 511 L984.5 535.4 V543.4 L855 518.4 L804.7 509.6 Z"/>
    <!-- left post -->
    <rect x="808.8" y="504" width="4.8" height="52"/>
    <!-- mid post -->
    <rect x="852" y="513" width="7.4" height="43"/>
    <!-- second beam -->
    <path d="M813 518.2 L852 525.6 V529.8 L813 521.8 Z"/>
    <path d="M859 530.4 L930 547 L960 555.4 L944 555.4 L859 533.6 Z"/>
    <!-- lower-left diagonal/bottom beam -->
    <path d="M813 540 L852 550.4 V553.6 L813 543.4 Z"/>
    <rect x="831" y="522" width="2.2" height="34"/>
    <!-- right section top bar -->
    <path d="M882 483.6 L984.5 492.6 V496 L882 486.8 Z"/>
    <rect x="882" y="483.6" width="3.8" height="34"/>
    <rect x="910.8" y="489" width="2.3" height="34"/>
    <rect x="939.5" y="492.6" width="2.4" height="34.6"/>
    <rect x="976.6" y="496" width="4.4" height="50"/>
    <rect x="921.2" y="523" width="4.8" height="32"/>
    <rect x="887.6" y="540" width="2.6" height="16"/>
  </g>
  <g stroke="#f8d252" stroke-width="1.6" fill="none"><path d="M813 540.6 L832 524.4 L852 551.6 M878 555.6 L889 540.4 L900 555.6"/></g>
  <!-- traffic light -->
  <rect x="955.6" y="414" width="2.8" height="24.4" fill="#f8d252"/>
  <path d="M942 412.5 H955.9 V437.8 H941.4 Q940.6 437.8 940.6 437 V433.6 Q938.8 432.6 938.8 430.4 Q938.8 427.6 941.2 426.4 L941 420.6 Q938.8 419.6 938.8 417.4 Q938.8 414.4 942 412.5 Z" fill="#0a0a0a"/>
  <circle cx="946.9" cy="419.4" r="4.7" fill="#fff"/>
  <circle cx="946.4" cy="431.9" r="4.4" fill="#f8d252"/>
</g>
</g>

</svg>
<!-- CAPTIONS -->
<div class="cl" style="left:94.8px;top:342.0px;transform:scaleX(1.144);">Устраивать</div>
<div class="cl" style="left:74.6px;top:355.5px;transform:scaleX(1.193);">подвижные игры</div>
<div class="cl" style="left:356.3px;top:342.0px;transform:scaleX(1.157);">Заходить</div>
<div class="cl" style="left:319.8px;top:355.5px;transform:scaleX(1.186);">за ограничительную</div>
<div class="cl" style="left:303.5px;top:368.5px;transform:scaleX(1.171);">линию у края платформы</div>
<div class="cl" style="left:571.0px;top:342.0px;transform:scaleX(1.176);">Производить посадку</div>
<div class="cl" style="left:559.4px;top:355.5px;transform:scaleX(1.152);">и высадку на ходу поезда</div>
<div class="cl" style="left:822.1px;top:342.0px;transform:scaleX(1.174);">Подлезать под вагоны</div>
<div class="cl" style="left:819.2px;top:355.5px;transform:scaleX(1.190);">и перелезать через них</div>
<div class="cl" style="left:91.5px;top:563.7px;transform:scaleX(1.184);">Переходить</div>
<div class="cl" style="left:52.0px;top:577.3px;transform:scaleX(1.216);">железнодорожные пути</div>
<div class="cl" style="left:44.4px;top:590.9px;transform:scaleX(1.170);">в неустановленных местах</div>
<div class="cl" style="left:319.2px;top:563.7px;transform:scaleX(1.217);">Снимайте наушники</div>
<div class="cl" style="left:293.7px;top:577.3px;transform:scaleX(1.225);">и капюшон при нахождении</div>
<div class="cl" style="left:320.0px;top:590.9px;transform:scaleX(1.215);">на железной дороге</div>
<div class="cl" style="left:561.0px;top:563.7px;transform:scaleX(1.158);">Нельзя класть предметы</div>
<div class="cl" style="left:538.0px;top:577.3px;transform:scaleX(1.179);">на рельсы. Это может привести</div>
<div class="cl" style="left:577.2px;top:590.9px;transform:scaleX(1.192);">к крушению поезда</div>
<div class="cl" style="left:793.5px;top:563.7px;transform:scaleX(1.203);">Переходить железнодорожные</div>
<div class="cl" style="left:813.8px;top:577.3px;transform:scaleX(1.184);">пути разрешается только</div>
<div class="cl" style="left:827.6px;top:590.9px;transform:scaleX(1.164);">в безопасных местах</div>
</body>
</html>
